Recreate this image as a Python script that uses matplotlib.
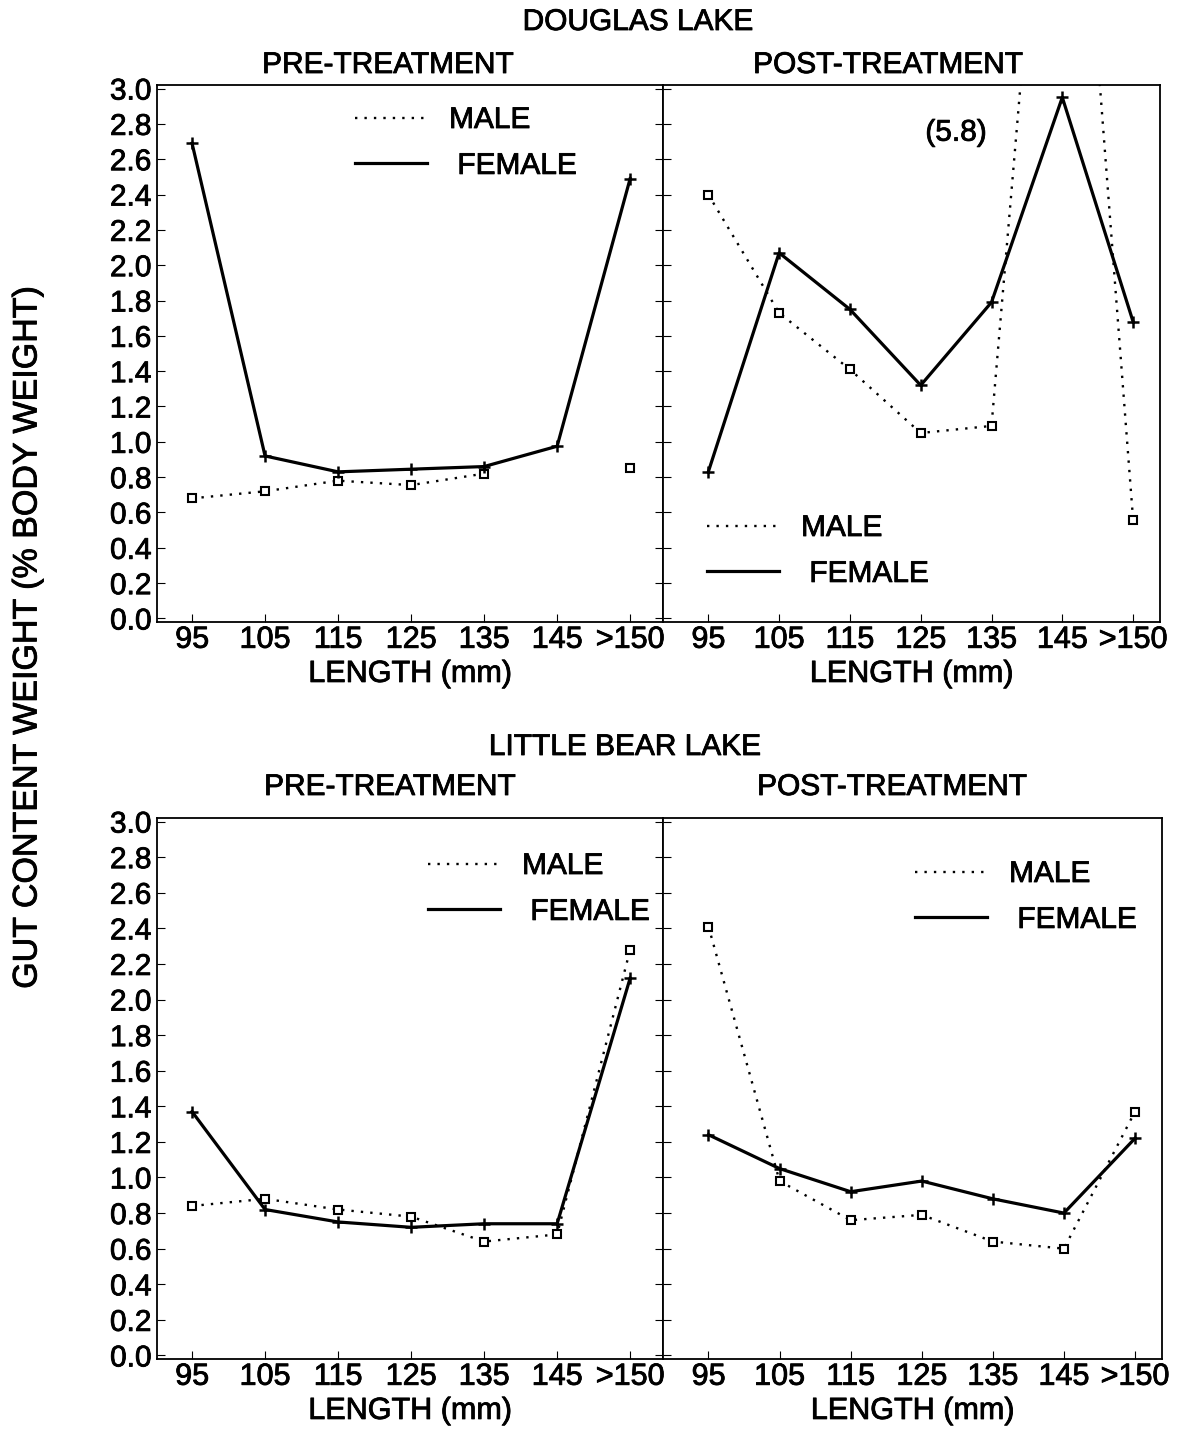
import numpy as np
import matplotlib
matplotlib.use("Agg")
import matplotlib.pyplot as plt
from matplotlib.lines import Line2D
import matplotlib.patheffects as pe

plt.rcParams['font.family'] = ['Liberation Sans', 'DejaVu Sans']

categories = ['95', '105', '115', '125', '135', '145', '>150']
xpos = [95, 105, 115, 125, 135, 145, 155]
yticks = [0.0, 0.2, 0.4, 0.6, 0.8, 1.0, 1.2, 1.4, 1.6, 1.8, 2.0, 2.2, 2.4, 2.6, 2.8, 3.0]

douglas_pre_male = [0.68, 0.72, 0.78, 0.755, 0.82, np.nan, 0.85]
douglas_pre_female = [2.69, 0.92, 0.83, 0.845, 0.86, 0.975, 2.49]
douglas_post_male = [2.40, 1.73, 1.41, 1.05, 1.09, 5.8, 0.56]
douglas_post_female = [0.83, 2.07, 1.75, 1.32, 1.79, 2.95, 1.68]
bear_pre_male = [0.84, 0.88, 0.82, 0.78, 0.64, 0.68, 2.28]
bear_pre_female = [1.37, 0.82, 0.75, 0.72, 0.74, 0.74, 2.12]
bear_post_male = [2.41, 0.98, 0.76, 0.79, 0.64, 0.60, 1.37]
bear_post_female = [1.24, 1.05, 0.92, 0.98, 0.88, 0.80, 1.22]

W, H = 1189, 1431
fig = plt.figure(figsize=(W / 100, H / 100), dpi=100)

def fx(px):
    return px / W

def fy(py):
    return 1 - py / H

HEAVY = [pe.withStroke(linewidth=0.6, foreground='black')]
FS_TICKX = 22
FS_TICKY = 21.5
FS_LAB = 22
FS_LEG = 21.5
FS_TITLE = 21.5

def make_ax(l, t, r, b):
    return fig.add_axes([fx(l), fy(b), fx(r) - fx(l), fy(t) - fy(b)])

panels = [
    ((157, 85, 663, 622), (90.2, 159.5), douglas_pre_male, douglas_pre_female, True, (355, 106)),
    ((663, 85, 1160, 622), (88.6, 158.8), douglas_post_male, douglas_post_female, False, (707, 514)),
    ((157, 818, 663, 1359), (90.2, 159.5), bear_pre_male, bear_pre_female, True, (428, 852)),
    ((663, 818, 1162, 1359), (88.6, 158.8), bear_post_male, bear_post_female, False, (915, 860)),
]

axes = []
for (box, xlim, male, female, is_left, legpos) in panels:
    ax = make_ax(*box)
    axes.append(ax)
    ax.plot(xpos, male, linestyle=(0, (1, 3)), color='black', lw=1.7,
            marker='s', markersize=5.5, mfc='white', mec='black', mew=1.5)
    ax.plot(xpos, female, linestyle='-', color='black', lw=2.3,
            marker='+', markersize=9, mew=1.8)
    ax.set_xlim(*xlim)
    ax.set_ylim(-0.02, 3.02)
    ax.set_xticks(xpos)
    ax.set_xticklabels(categories, fontsize=FS_TICKX)
    ax.set_yticks(yticks)
    if is_left:
        ax.set_yticklabels(['%.1f' % v for v in yticks], fontsize=FS_TICKY)
        ax.tick_params(axis='y', which='both', direction='in', left=True, right=True, length=6, pad=4)
    else:
        ax.set_yticklabels([])
        ax.tick_params(axis='y', which='both', direction='in', left=True, right=False, length=6)
    ax.tick_params(axis='x', direction='in', length=6, pad=2)
    for lab in ax.get_xticklabels() + ax.get_yticklabels():
        lab.set_path_effects(HEAVY)
    xl = ax.set_xlabel('LENGTH (mm)', fontsize=FS_LAB, labelpad=3)
    xl.set_path_effects(HEAVY)
    for s in ax.spines.values():
        s.set_linewidth(1.3)
    handles = [Line2D([], [], color='black', linestyle=(0, (1, 3)), lw=1.7),
               Line2D([], [], color='black', linestyle='-', lw=2.3)]
    leg = ax.legend(handles, ['MALE', ' FEMALE'], loc='upper left',
                    bbox_to_anchor=(fx(legpos[0]), fy(legpos[1])), bbox_transform=fig.transFigure,
                    frameon=False, fontsize=FS_LEG, handlelength=2.4, handletextpad=0.75,
                    labelspacing=0.6, borderpad=0, borderaxespad=0)
    for t in leg.get_texts():
        t.set_path_effects(HEAVY)

t58 = axes[1].text(130, 2.75, '(5.8)', fontsize=FS_LEG, ha='center', va='center')
t58.set_path_effects(HEAVY)

def title(px, py, s):
    t = fig.text(fx(px), fy(py), s, fontsize=FS_TITLE, ha='center', va='center')
    t.set_path_effects(HEAVY)

title(638, 22, 'DOUGLAS LAKE')
title(388, 65, 'PRE-TREATMENT')
title(888, 65, 'POST-TREATMENT')
title(625, 747, 'LITTLE BEAR LAKE')
title(390, 787, 'PRE-TREATMENT')
title(892, 787, 'POST-TREATMENT')
yl = fig.text(fx(28), fy(638), 'GUT CONTENT WEIGHT (% BODY WEIGHT)', fontsize=24.5,
              rotation=90, ha='center', va='center')
yl.set_path_effects(HEAVY)

fig.savefig('out.png', dpi=100)
